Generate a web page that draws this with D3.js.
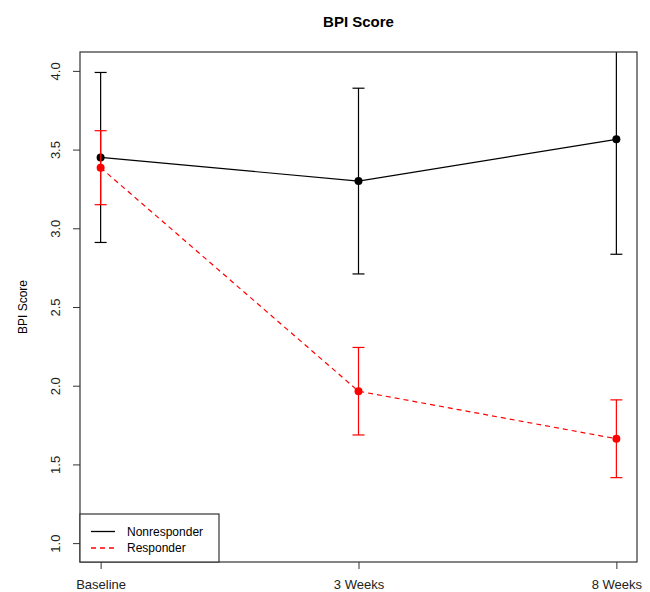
<!DOCTYPE html>
<html>
<head>
<meta charset="utf-8">
<script src="https://cdn.jsdelivr.net/npm/d3@7"></script>
<style>
body { margin: 0; background: #fff; }
text { font-family: "Liberation Sans", Arial, sans-serif; }
</style>
</head>
<body>
<svg id="chart" width="650" height="592"></svg>
<script>
// time points and group summaries (mean +/- error)
const timepoints = ["Baseline", "3 Weeks", "8 Weeks"];
const nonresponderMean = [3.45, 3.30, 3.565];
const nonresponderErr = [0.54, 0.59, 0.73];
const responderMean = [3.385, 1.965, 1.663];
const responderErr = [0.235, 0.278, 0.247];
const yTicks = [1.0, 1.5, 2.0, 2.5, 3.0, 3.5, 4.0];
const seriesNames = ["Nonresponder", "Responder"];

const svg = d3.select("#chart");
const plotLeft = 80, plotRight = 637, plotTop = 52, plotBottom = 562;

const x = d3.scaleLinear().domain([0.92, 3.08]).range([plotLeft, plotRight]);
const y = d3.scaleLinear().domain([0.88, 4.12]).range([plotBottom, plotTop]);

svg.append("defs").append("clipPath").attr("id", "plotclip")
  .append("rect")
  .attr("x", plotLeft).attr("y", plotTop)
  .attr("width", plotRight - plotLeft).attr("height", plotBottom - plotTop);

// title
svg.append("text")
  .attr("x", (plotLeft + plotRight) / 2).attr("y", 27)
  .attr("text-anchor", "middle")
  .style("font-size", "15px").style("font-weight", "bold")
  .text("BPI Score");

// y axis
const yAxis = svg.append("g")
  .attr("transform", `translate(${plotLeft},0)`)
  .call(d3.axisLeft(y).tickValues(yTicks).tickFormat(d3.format(".1f")).tickSize(7).tickPadding(0));
yAxis.select(".domain").remove();
yAxis.selectAll(".tick line").attr("stroke", "#333");
yAxis.selectAll(".tick text")
  .attr("transform", "rotate(-90)")
  .attr("x", 0).attr("y", -25)
  .attr("dy", "0.35em")
  .attr("text-anchor", "middle")
  .style("font-size", "13px").attr("fill", "#222");

// x axis
const xAxis = svg.append("g")
  .attr("transform", `translate(0,${plotBottom})`)
  .call(d3.axisBottom(x).tickValues([1, 2, 3]).tickFormat((d, i) => timepoints[i]).tickSize(7).tickPadding(11));
xAxis.select(".domain").remove();
xAxis.selectAll(".tick line").attr("stroke", "#333");
xAxis.selectAll(".tick text").style("font-size", "13px").attr("fill", "#222");

// y label
svg.append("text")
  .attr("transform", `translate(27,${(plotTop + plotBottom) / 2}) rotate(-90)`)
  .attr("text-anchor", "middle")
  .style("font-size", "12px")
  .text("BPI Score");

const plot = svg.append("g").attr("clip-path", "url(#plotclip)");

function drawSeries(means, errs, color, dash) {
  const pts = means.map((m, i) => ({ x: i + 1, m: m, e: errs[i] }));
  const line = d3.line().x(d => x(d.x)).y(d => y(d.m));
  plot.append("path").datum(pts)
    .attr("d", line)
    .attr("fill", "none").attr("stroke", color)
    .attr("stroke-width", 1.2)
    .attr("stroke-dasharray", dash);
  const g = plot.selectAll(null).data(pts).enter().append("g");
  g.append("line")
    .attr("x1", d => x(d.x)).attr("x2", d => x(d.x))
    .attr("y1", d => y(d.m - d.e)).attr("y2", d => y(d.m + d.e))
    .attr("stroke", color).attr("stroke-width", 1.2);
  [-1, 1].forEach(s => {
    g.append("line")
      .attr("x1", d => x(d.x) - 6).attr("x2", d => x(d.x) + 6)
      .attr("y1", d => y(d.m + s * d.e)).attr("y2", d => y(d.m + s * d.e))
      .attr("stroke", color).attr("stroke-width", 1.2);
  });
  g.append("circle")
    .attr("cx", d => x(d.x)).attr("cy", d => y(d.m))
    .attr("r", 4).attr("fill", color);
}

drawSeries(nonresponderMean, nonresponderErr, "#000", null);
drawSeries(responderMean, responderErr, "#ff0000", "5,4");

// plot box
svg.append("rect")
  .attr("x", plotLeft).attr("y", plotTop)
  .attr("width", plotRight - plotLeft).attr("height", plotBottom - plotTop)
  .attr("fill", "none").attr("stroke", "#333").attr("stroke-width", 1.2);

// legend
const leg = svg.append("g");
leg.append("rect")
  .attr("x", plotLeft).attr("y", 514)
  .attr("width", 139).attr("height", plotBottom - 514)
  .attr("fill", "#fff").attr("stroke", "#333").attr("stroke-width", 1.2);
const legColors = ["#000", "#ff0000"];
const legDash = ["none", "5,4"];
seriesNames.forEach((name, i) => {
  const ly = 531.5 + i * 16.5;
  leg.append("path")
    .attr("d", `M91,${ly}H115`)
    .style("stroke", legColors[i]).style("stroke-width", "1.3px")
    .style("stroke-dasharray", legDash[i])
    .style("fill", "none");
  leg.append("text")
    .attr("x", 127).attr("y", ly).attr("dy", "0.35em")
    .style("font-size", "12px")
    .text(name);
});
</script>
</body>
</html>
